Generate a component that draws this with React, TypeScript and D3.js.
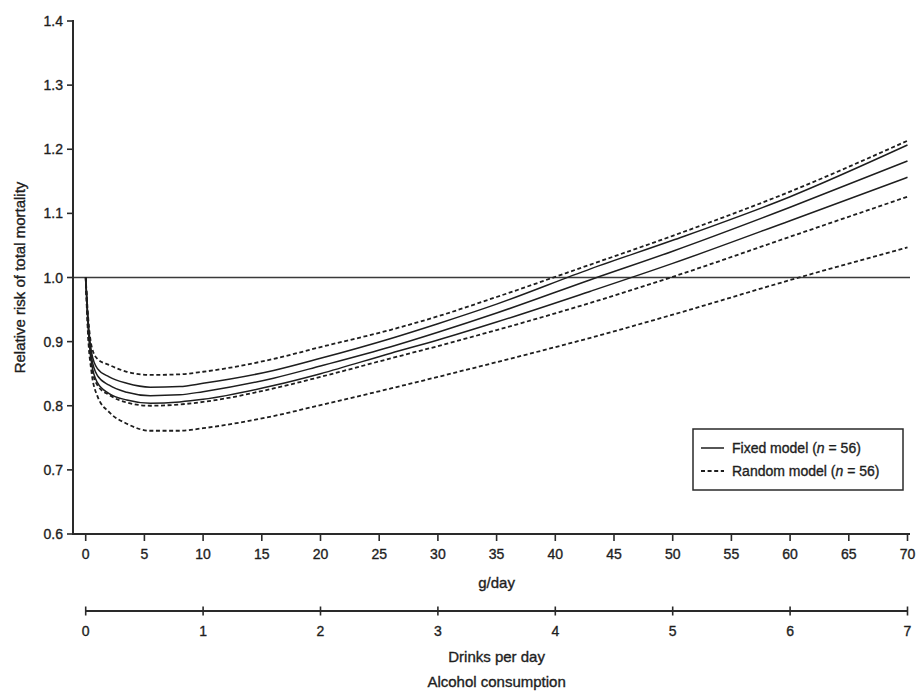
import React from "react";
import * as d3 from "d3";

// Alcohol consumption (g/day) at which the curves were read
const gPoints = [0, 0.2, 0.5, 1, 2, 3.5, 5.5, 8, 10, 16, 20, 26, 30, 35, 43, 50, 60, 70];

// Fixed model (n = 56): estimate and confidence bounds
const fixedUpper = [1.0, 0.935, 0.883, 0.858, 0.845, 0.835, 0.829, 0.83, 0.835, 0.855, 0.874, 0.905, 0.928, 0.9585, 1.0135, 1.058, 1.126, 1.2066];
const fixedMid = [1.0, 0.93, 0.875, 0.847, 0.832, 0.821, 0.8157, 0.817, 0.822, 0.843, 0.862, 0.892, 0.9146, 0.9446, 0.9966, 1.041, 1.1095, 1.1817];
const fixedLower = [1.0, 0.925, 0.866, 0.836, 0.819, 0.809, 0.804, 0.806, 0.81, 0.8315, 0.85, 0.882, 0.9025, 0.9305, 0.9786, 1.022, 1.0886, 1.1563];

// Random model (n = 56): estimate and confidence bounds
const randomUpper = [1.0, 0.94, 0.893, 0.873, 0.8636, 0.853, 0.848, 0.849, 0.853, 0.873, 0.8915, 0.9185, 0.9395, 0.9696, 1.0202, 1.065, 1.134, 1.2133];
const randomMid = [1.0, 0.92, 0.862, 0.832, 0.8168, 0.805, 0.8, 0.802, 0.806, 0.827, 0.845, 0.874, 0.893, 0.918, 0.9605, 1.001, 1.0636, 1.126];
const randomLower = [1.0, 0.91, 0.852, 0.815, 0.79, 0.772, 0.761, 0.761, 0.765, 0.784, 0.801, 0.827, 0.845, 0.868, 0.906, 0.942, 0.996, 1.047];

const yTicks = [0.6, 0.7, 0.8, 0.9, 1.0, 1.1, 1.2, 1.3, 1.4];
const gTicks = [0, 5, 10, 15, 20, 25, 30, 35, 40, 45, 50, 55, 60, 65, 70];
const drinkTicks = [0, 1, 2, 3, 4, 5, 6, 7];

const legendLabels = ["Fixed model", "Random model"];
const legendN = 56;

const W = 917;
const H = 692;
const FONT = "'Liberation Sans', Arial, Helvetica, sans-serif";
const INK = "#1e1e1e";
const TXT = { fill: INK, stroke: INK, strokeWidth: 0.35 } as const;

export default function App() {
  const x = d3.scaleLinear().domain([0, 70]).range([85.7, 907.5]);
  const xd = d3.scaleLinear().domain([0, 7]).range([85.7, 907.5]);
  const y = d3.scaleLinear().domain([0.6, 1.4]).range([534, 21]);

  const line = d3
    .line<[number, number]>()
    .x((d) => x(d[0]))
    .y((d) => y(d[1]))
    .curve(d3.curveMonotoneX);

  const mk = (vals: number[]) => line(gPoints.map((g, i) => [g, vals[i]] as [number, number])) || "";

  const solid = [fixedUpper, fixedMid, fixedLower];
  const dashed = [randomUpper, randomMid, randomLower];

  const axisLeft = 73;
  const axisRight = 910;
  const axisBottom = y(0.6);
  const drinksY = 611;

  const lgX = 693;
  const lgY = 429;
  const lgW = 210;
  const lgH = 61;

  return (
    <svg
      width={W}
      height={H}
      viewBox={`0 0 ${W} ${H}`}
      style={{ position: "absolute", left: 0, top: 0, background: "#fff" }}
      fontFamily={FONT}
    >
      <rect x={0} y={0} width={W} height={H} fill="#fff" />

      {/* reference line at RR = 1.0 */}
      <line x1={axisLeft} x2={axisRight} y1={y(1.0)} y2={y(1.0)} stroke="#3a3a3a" strokeWidth={1.6} />

      {/* curves */}
      {dashed.map((vals, i) => (
        <path key={"d" + i} d={mk(vals)} fill="none" stroke={INK} strokeWidth={1.8} strokeDasharray="4,2.6" />
      ))}
      {solid.map((vals, i) => (
        <path key={"s" + i} d={mk(vals)} fill="none" stroke={INK} strokeWidth={1.5} />
      ))}

      {/* y axis */}
      <line x1={axisLeft} x2={axisLeft} y1={y(1.4) - 1} y2={axisBottom + 1} stroke="#2a2a2a" strokeWidth={2} />
      {yTicks.map((t) => (
        <g key={"yt" + t}>
          <line x1={axisLeft - 6} x2={axisLeft} y1={y(t)} y2={y(t)} stroke="#2a2a2a" strokeWidth={1.6} />
          <text x={63} y={y(t) + 5} textAnchor="end" fontSize={14} {...TXT}>
            {t.toFixed(1)}
          </text>
        </g>
      ))}
      <text
        transform={`translate(25, ${y(1.0)}) rotate(-90)`}
        textAnchor="middle"
        fontSize={15}
        {...TXT}
      >
        Relative risk of total mortality
      </text>

      {/* x axis g/day */}
      <line x1={axisLeft - 1} x2={axisRight} y1={axisBottom} y2={axisBottom} stroke="#2a2a2a" strokeWidth={2} />
      {gTicks.map((t) => (
        <g key={"xt" + t}>
          <line x1={x(t)} x2={x(t)} y1={axisBottom} y2={axisBottom + 7} stroke="#2a2a2a" strokeWidth={1.6} />
          <text x={x(t)} y={558.5} textAnchor="middle" fontSize={14} {...TXT}>
            {t}
          </text>
        </g>
      ))}
      <text x={(x(0) + x(70)) / 2} y={587.5} textAnchor="middle" fontSize={15} {...TXT}>
        g/day
      </text>

      {/* drinks per day axis */}
      <line x1={xd(0)} x2={xd(7)} y1={drinksY} y2={drinksY} stroke="#2a2a2a" strokeWidth={1.8} />
      {drinkTicks.map((t) => (
        <g key={"dt" + t}>
          <line x1={xd(t)} x2={xd(t)} y1={drinksY - 4.5} y2={drinksY + 4.5} stroke="#2a2a2a" strokeWidth={1.6} />
          <text x={xd(t)} y={635.7} textAnchor="middle" fontSize={14} {...TXT}>
            {t}
          </text>
        </g>
      ))}
      <text x={(xd(0) + xd(7)) / 2} y={661.5} textAnchor="middle" fontSize={15} {...TXT}>
        Drinks per day
      </text>
      <text x={(xd(0) + xd(7)) / 2} y={686.5} textAnchor="middle" fontSize={15} {...TXT}>
        Alcohol consumption
      </text>

      {/* legend */}
      <rect x={lgX} y={lgY} width={lgW} height={lgH} fill="#fff" stroke="#2a2a2a" strokeWidth={1.5} />
      {legendLabels.map((lab, i) => {
        const cy = lgY + 19 + i * 23;
        return (
          <g key={"lg" + i}>
            <line
              x1={lgX + 8}
              x2={lgX + 31}
              y1={cy}
              y2={cy}
              stroke={INK}
              strokeWidth={i === 0 ? 1.5 : 1.8}
              strokeDasharray={i === 0 ? undefined : "4,2.6"}
            />
            <text x={lgX + 39} y={cy + 5} fontSize={14} {...TXT}>
              {lab} (<tspan fontStyle="italic">n</tspan> = {legendN})
            </text>
          </g>
        );
      })}
    </svg>
  );
}
